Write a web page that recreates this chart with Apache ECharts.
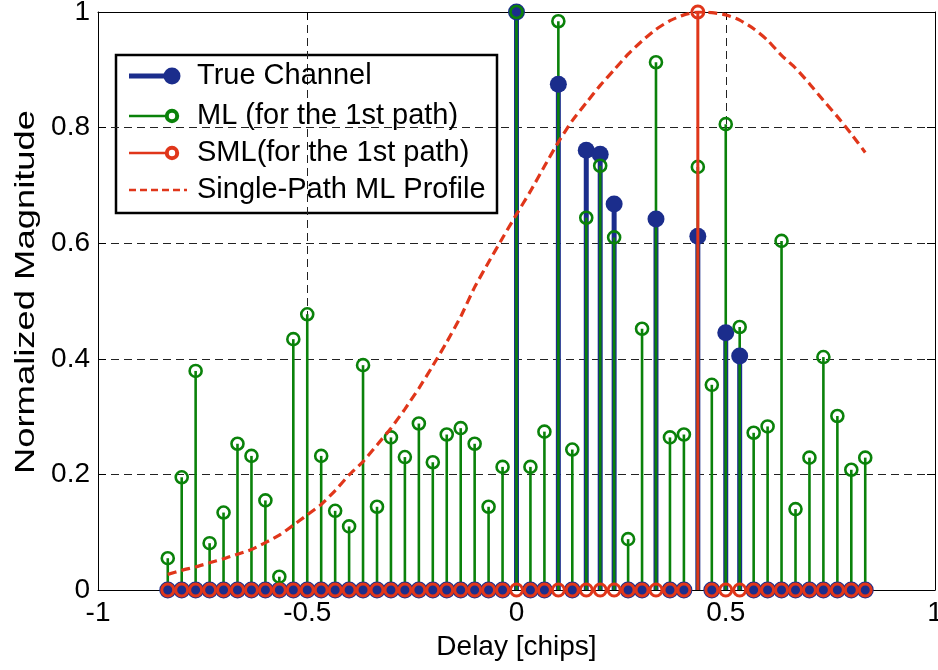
<!DOCTYPE html>
<html>
<head>
<meta charset="utf-8">
<title>Normalized Magnitude vs Delay</title>
<script src="https://cdn.jsdelivr.net/npm/echarts@6/dist/echarts.min.js"></script>
<style>
  html, body { margin: 0; padding: 0; background: #fff; }
  #chart { width: 938px; height: 670px; }
</style>
</head>
<body>
<div id="chart"></div>
<script>
// Delay grid in chips (1/30-chip spacing)
const delays = [
  -0.8333, -0.8000, -0.7667, -0.7333, -0.7000, -0.6667, -0.6333, -0.6000, -0.5667, -0.5333,
  -0.5000, -0.4667, -0.4333, -0.4000, -0.3667, -0.3333, -0.3000, -0.2667, -0.2333, -0.2000,
  -0.1667, -0.1333, -0.1000, -0.0667, -0.0333, 0.0000, 0.0333, 0.0667, 0.1000, 0.1333,
  0.1667, 0.2000, 0.2333, 0.2667, 0.3000, 0.3333, 0.3667, 0.4000, 0.4333, 0.4667,
  0.5000, 0.5333, 0.5667, 0.6000, 0.6333, 0.6667, 0.7000, 0.7333, 0.7667, 0.8000,
  0.8333
];

// True multipath channel taps
const trueChannel = [
  0, 0, 0, 0, 0, 0, 0, 0, 0, 0,
  0, 0, 0, 0, 0, 0, 0, 0, 0, 0,
  0, 0, 0, 0, 0, 1.000, 0, 0, 0.875, 0,
  0.761, 0.754, 0.668, 0, 0, 0.642, 0, 0, 0.612, 0,
  0.445, 0.405, 0, 0, 0, 0, 0, 0, 0, 0,
  0
];

// ML estimate (for the 1st path)
const mlEstimate = [
  0.055, 0.195, 0.379, 0.081, 0.134, 0.253, 0.232, 0.155, 0.023, 0.434,
  0.477, 0.232, 0.137, 0.110, 0.389, 0.144, 0.264, 0.230, 0.288, 0.221,
  0.269, 0.280, 0.253, 0.144, 0.213, 1.000, 0.213, 0.274, 0.984, 0.243,
  0.644, 0.734, 0.610, 0.088, 0.452, 0.913, 0.264, 0.269, 0.732, 0.355,
  0.806, 0.455, 0.272, 0.283, 0.604, 0.140, 0.229, 0.403, 0.301, 0.208,
  0.229
];

// SML estimate (for the 1st path)
const smlEstimate = [
  0, 0, 0, 0, 0, 0, 0, 0, 0, 0,
  0, 0, 0, 0, 0, 0, 0, 0, 0, 0,
  0, 0, 0, 0, 0, 0, 0, 0, 0, 0,
  0, 0, 0, 0, 0, 0, 0, 0, 1.000, 0,
  0, 0, 0, 0, 0, 0, 0, 0, 0, 0,
  0
];

// Single-path ML profile
const singlePathProfile = [
  0.027, 0.034, 0.040, 0.047, 0.054, 0.062, 0.070, 0.082, 0.095, 0.112,
  0.130, 0.148, 0.172, 0.199, 0.222, 0.251, 0.280, 0.313, 0.349, 0.388,
  0.429, 0.473, 0.524, 0.567, 0.609, 0.650, 0.690, 0.733, 0.775, 0.812,
  0.843, 0.873, 0.900, 0.927, 0.950, 0.970, 0.985, 0.995, 1.000, 0.999,
  0.995, 0.986, 0.971, 0.951, 0.925, 0.903, 0.876, 0.847, 0.819, 0.789,
  0.757
];

const xRange = { min: -1, max: 1, step: 0.5 };
const yRange = { min: 0, max: 1, step: 0.2 };

const FONT = "'Liberation Sans', Arial, Helvetica, sans-serif";
const BLUE = '#1b2d8c';
const GREEN = '#0a820a';
const RED = '#e0361a';

// Stem plot drawn through the axes: a vertical line from 0 to the value, plus a marker at the tip.
function stemSeries(name, values, look) {
  return {
    type: 'custom',
    name: name,
    clip: false,
    silent: true,
    data: delays.map((d, i) => [d, values[i]]),
    encode: { x: 0, y: 1 },
    renderItem: function (params, api) {
      const d = api.value(0);
      const v = api.value(1);
      const base = api.coord([d, 0]);
      const tip = api.coord([d, v]);
      const children = [];
      if (v !== 0) {
        children.push({
          type: 'line',
          z2: look.lineZ,
          shape: { x1: base[0], y1: base[1], x2: tip[0], y2: tip[1] },
          style: { stroke: look.color, lineWidth: look.lineWidth }
        });
      }
      children.push({
        type: 'circle',
        z2: look.markerZ,
        shape: { cx: tip[0], cy: tip[1], r: look.r },
        style: look.filled
          ? { fill: look.color, stroke: null }
          : { fill: 'none', stroke: look.color, lineWidth: look.ringWidth }
      });
      return { type: 'group', children: children };
    }
  };
}

const axisLineStyle = { color: '#000', width: 1 };
const gridLineStyle = { color: '#222', width: 1, type: [8, 5] };

const chart = echarts.init(document.getElementById('chart'), null, { renderer: 'canvas' });

const legendRows = [
  { y: 76, text: 'True Channel' },
  { y: 116, text: 'ML (for the 1st path)' },
  { y: 153, text: 'SML(for the 1st path)' },
  { y: 190, text: 'Single-Path ML Profile' }
];

const option = {
  animation: false,
  backgroundColor: '#fff',
  grid: { left: 98, right: 3, top: 12, bottom: 80, outerBoundsMode: 'none' },
  xAxis: [
    {
      type: 'value', position: 'bottom',
      min: xRange.min, max: xRange.max, interval: xRange.step,
      axisLine: { show: true, onZero: false, lineStyle: axisLineStyle },
      axisTick: { show: true, inside: true, length: 8, lineStyle: axisLineStyle },
      axisLabel: { color: '#000', fontSize: 28, fontFamily: FONT, margin: 9 },
      splitLine: { show: true, lineStyle: gridLineStyle },
      name: 'Delay [chips]', nameLocation: 'middle', nameGap: 43,
      nameTextStyle: { color: '#000', fontSize: 28, fontFamily: FONT }
    },
    {
      type: 'value', position: 'top',
      min: xRange.min, max: xRange.max, interval: xRange.step,
      axisLine: { show: true, onZero: false, lineStyle: axisLineStyle },
      axisTick: { show: true, inside: true, length: 8, lineStyle: axisLineStyle },
      axisLabel: { show: false },
      splitLine: { show: false }
    }
  ],
  yAxis: [
    {
      type: 'value', position: 'left',
      min: yRange.min, max: yRange.max, interval: yRange.step,
      axisLine: { show: true, onZero: false, lineStyle: axisLineStyle },
      axisTick: { show: true, inside: true, length: 8, lineStyle: axisLineStyle },
      axisLabel: { color: '#000', fontSize: 28, fontFamily: FONT, margin: 8 },
      splitLine: { show: true, lineStyle: gridLineStyle }
    },
    {
      type: 'value', position: 'right',
      min: yRange.min, max: yRange.max, interval: yRange.step,
      axisLine: { show: true, onZero: false, lineStyle: axisLineStyle },
      axisTick: { show: true, inside: true, length: 8, lineStyle: axisLineStyle },
      axisLabel: { show: false },
      splitLine: { show: false }
    }
  ],
  series: [
    stemSeries('True Channel', trueChannel, {
      color: BLUE, lineWidth: 5, lineZ: 1, markerZ: 3, r: 8.5, filled: true
    }),
    stemSeries('ML (for the 1st path)', mlEstimate, {
      color: GREEN, lineWidth: 2.6, lineZ: 2, markerZ: 4, r: 6, ringWidth: 2.6, filled: false
    }),
    stemSeries('SML(for the 1st path)', smlEstimate, {
      color: RED, lineWidth: 3, lineZ: 5, markerZ: 6, r: 6, ringWidth: 3, filled: false
    }),
    {
      type: 'line',
      name: 'Single-Path ML Profile',
      data: delays.map((d, i) => [d, singlePathProfile[i]]),
      showSymbol: false,
      symbol: 'none',
      smooth: 0.2,
      z: 3,
      silent: true,
      lineStyle: { color: RED, width: 3.2, type: [9, 5] }
    }
  ],
  graphic: [
    // Y-axis title, drawn with a wide letterform along the axis
    {
      type: 'text', z: 20,
      x: 26, y: 292,
      rotation: Math.PI / 2,
      scaleX: 1.3,
      style: {
        text: 'Normalized Magnitude',
        fill: '#000', font: '28px ' + FONT,
        align: 'center', verticalAlign: 'middle'
      }
    },
    {
      type: 'group', z: 20,
      children: [
        {
          type: 'rect', z2: 0,
          shape: { x: 116, y: 55, width: 381, height: 158 },
          style: { fill: '#fff', stroke: '#000', lineWidth: 2.5 }
        },
        // True Channel sample
        { type: 'line', z2: 1, shape: { x1: 129, y1: 76, x2: 172, y2: 76 }, style: { stroke: BLUE, lineWidth: 5 } },
        { type: 'circle', z2: 2, shape: { cx: 172, cy: 76, r: 8.5 }, style: { fill: BLUE } },
        // ML sample
        { type: 'line', z2: 1, shape: { x1: 129, y1: 116, x2: 172, y2: 116 }, style: { stroke: GREEN, lineWidth: 2.6 } },
        { type: 'circle', z2: 2, shape: { cx: 172, cy: 116, r: 5.2 }, style: { fill: '#fff', stroke: GREEN, lineWidth: 4 } },
        // SML sample
        { type: 'line', z2: 1, shape: { x1: 129, y1: 153, x2: 172, y2: 153 }, style: { stroke: RED, lineWidth: 2.6 } },
        { type: 'circle', z2: 2, shape: { cx: 172, cy: 153, r: 5.2 }, style: { fill: '#fff', stroke: RED, lineWidth: 4 } },
        // Profile sample
        { type: 'line', z2: 1, shape: { x1: 129, y1: 190, x2: 187, y2: 190 }, style: { stroke: RED, lineWidth: 2.6, lineDash: [7, 4] } }
      ].concat(legendRows.map(r => ({
        type: 'text', z2: 3,
        style: {
          x: 197, y: r.y, text: r.text,
          fill: '#000', font: '29px ' + FONT,
          verticalAlign: 'middle'
        }
      })))
    }
  ]
};

chart.setOption(option);
</script>
</body>
</html>
